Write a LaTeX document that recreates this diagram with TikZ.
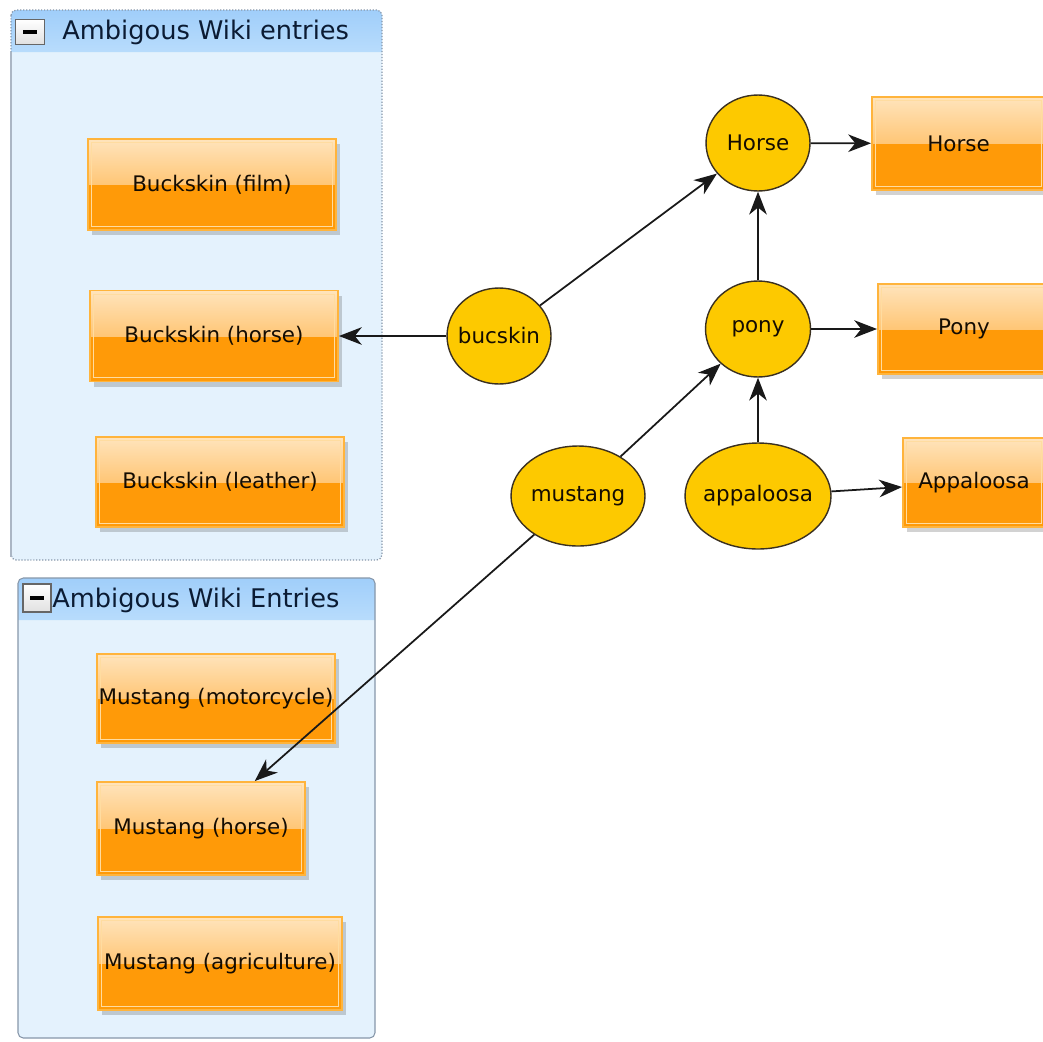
\documentclass[tikz,border=0pt]{standalone}
\usepackage{fontspec}
\setmainfont{DejaVu Sans}
\usetikzlibrary{shapes.geometric, arrows.meta, shadows}

\definecolor{boxtop}{HTML}{FFE4BC}
\definecolor{boxmid}{HTML}{FFC676}
\definecolor{boxlow}{HTML}{FF9A08}
\definecolor{boxedge}{HTML}{FFB43C}
\definecolor{boxinner}{HTML}{FFDCA0}
\definecolor{ellfill}{HTML}{FDC900}
\definecolor{ellline}{HTML}{3A3020}
\definecolor{grpbody}{HTML}{E4F2FD}
\definecolor{grphead}{HTML}{A0CEFA}
\definecolor{grpheadlow}{HTML}{B8DCFC}
\definecolor{grpline}{HTML}{8797AA}
\definecolor{titleink}{HTML}{0B1B33}
\definecolor{textink}{HTML}{140C02}

\tikzset{
  entry/.style={rectangle, draw=boxedge, line width=1.1pt, inner sep=0pt,
    text=textink, font=\fontsize{12.2}{14}\selectfont,
    drop shadow={shadow xshift=2.5pt, shadow yshift=-3pt, opacity=0.25, fill=black!70},
    path picture={
      \fill[boxlow] (path picture bounding box.south west) rectangle (path picture bounding box.east);
      \shade[top color=boxtop, bottom color=boxmid]
        (path picture bounding box.west) rectangle (path picture bounding box.north east);
      \draw[boxinner, line width=0.6pt]
        ([shift={(2.2pt,-2.2pt)}]path picture bounding box.north west) rectangle
        ([shift={(-2.2pt,2.2pt)}]path picture bounding box.south east);
    }},
  topic/.style={ellipse, draw=ellline, fill=ellfill, line width=0.8pt, inner sep=0pt},
  topiclabel/.style={text=textink, font=\fontsize{12.2}{14}\selectfont, inner sep=0pt},
  link/.style={-{Stealth[length=13pt, width=10pt, inset=4pt]}, line width=1pt, draw=black!90},
  minusbox/.style={rectangle, draw=black!60, line width=0.6pt, top color=white, bottom color=black!12,
    minimum width=0.58cm, minimum height=0.5cm, inner sep=0pt,
    path picture={\fill[black] ([shift={(-4.2pt,-1pt)}]path picture bounding box.center) rectangle ([shift={(4.2pt,1pt)}]path picture bounding box.center);}},
  grouptitle/.style={anchor=west, inner sep=0pt, text=titleink, font=\fontsize{14.6}{17}\selectfont},
}

\begin{document}
\begin{tikzpicture}[x=0.02cm, y=-0.02cm]
\clip (0,0) rectangle (1043,1041);
\fill[white] (0,0) rectangle (1043,1041);

% first group frame
\fill[grpbody, rounded corners=3pt] (11,10) rectangle (382,560);
\shade[top color=grphead, bottom color=grpheadlow]
  (11,52) [rounded corners=3pt] -- (11,10) -- (382,10) [sharp corners] -- (382,52) -- cycle;
\draw[grpline, densely dotted, line width=0.7pt, rounded corners=3pt] (11,10) rectangle (382,560);
\draw[grpline!70, line width=0.6pt] (11,52) -- (11,557);
\node[minusbox] (min1) at (30,32) {};
\node[grouptitle] (title1) at (62,32) {Ambigous Wiki entries};

% second group frame
\fill[grpbody, rounded corners=3pt] (18,578) rectangle (375,1038);
\shade[top color=grphead, bottom color=grpheadlow]
  (18,620) [rounded corners=3pt] -- (18,578) -- (375,578) [sharp corners] -- (375,620) -- cycle;
\draw[grpline, line width=0.6pt, rounded corners=3pt] (18,578) rectangle (375,1038);
\node[minusbox, minimum width=0.56cm, minimum height=0.56cm] (min2) at (37,598) {};
\node[grouptitle] (title2) at (52,600) {Ambigous Wiki Entries};

% wiki entries
\node[entry, minimum width=4.96cm, minimum height=1.82cm] (bfilm)    at (212,184.5) {Buckskin (film)};
\node[entry, minimum width=4.96cm, minimum height=1.82cm] (bhorse)   at (214,336) {Buckskin (horse)};
\node[entry, minimum width=4.96cm, minimum height=1.80cm] (bleather) at (220,482)   {Buckskin (leather)};
\node[entry, minimum width=4.76cm, minimum height=1.78cm] (mmoto)    at (216,698.5) {Mustang (motorcycle)};
\node[entry, minimum width=4.16cm, minimum height=1.86cm] (mhorse)   at (201,828.5) {Mustang (horse)};
\node[entry, minimum width=4.88cm, minimum height=1.86cm] (magri)    at (220,963.5) {Mustang (agriculture)};
\node[entry, minimum width=3.46cm, minimum height=1.86cm] (rhorse)   at (958.5,143.5) {Horse};
\node[entry, minimum width=3.44cm, minimum height=1.80cm] (rpony)    at (964,329)   {Pony};
\node[entry, minimum width=2.84cm, minimum height=1.78cm] (rapp)     at (974,482.5) {Appaloosa};

% topics
\node[topic, minimum width=2.08cm, minimum height=1.92cm,
      label={[topiclabel]center:Horse}] (thorse) at (758,143) {};
\node[topic, minimum width=2.08cm, minimum height=1.92cm,
      label={[topiclabel]center:bucskin}] (tbuck) at (499,336) {};
\node[topic, minimum width=2.10cm, minimum height=1.92cm,
      label={[topiclabel]center:pony}] (tpony) at (758,329) {};
\node[topic, minimum width=2.68cm, minimum height=2.00cm,
      label={[topiclabel]center:mustang}] (tmust) at (578,496) {};
\node[topic, minimum width=2.92cm, minimum height=2.12cm,
      label={[topiclabel]center:appaloosa}] (tapp) at (758,496) {};

% relations
\draw[link] (tbuck) -- (thorse);
\draw[link] (tbuck) -- (bhorse);
\draw[link] (thorse) -- (rhorse);
\draw[link] (tpony) -- (thorse);
\draw[link] (tpony) -- (rpony);
\draw[link] (tmust) -- (tpony);
\draw[link] (tapp) -- (tpony);
\draw[link] (tapp) -- (rapp);
\draw[link] (tmust) -- (mhorse);
\end{tikzpicture}
\end{document}
